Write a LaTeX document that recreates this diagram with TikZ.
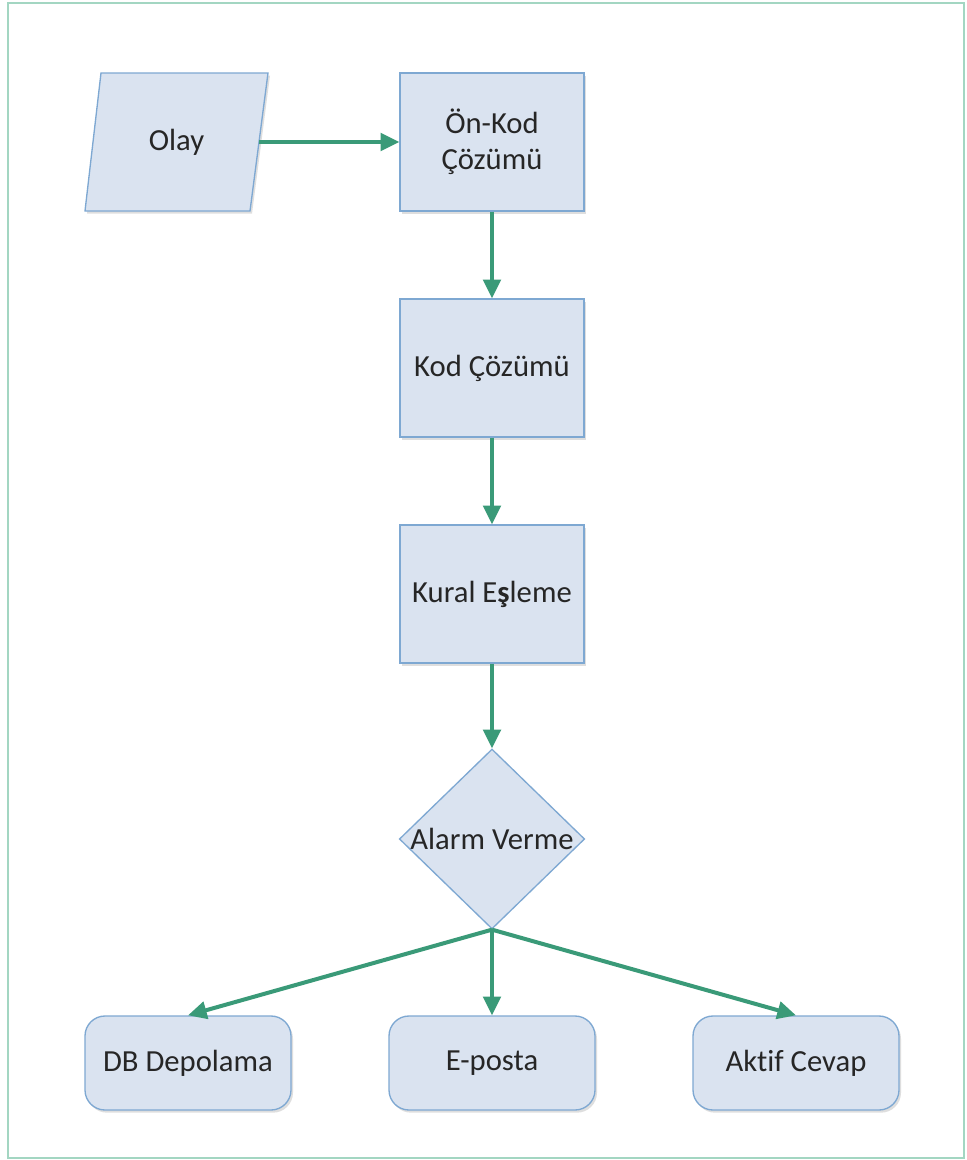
\documentclass[tikz,border=0pt]{standalone}
\usepackage{fontspec}
\setmainfont{Carlito}[Ligatures=NoCommon]
\usetikzlibrary{shapes.geometric,arrows.meta,shadows}
\definecolor{boxfill}{HTML}{DAE3F0}
\definecolor{boxline}{HTML}{7EA8D2}
\definecolor{flow}{HTML}{3A9A78}
\definecolor{frame}{HTML}{A3D6C2}
\begin{document}
\begin{tikzpicture}[x=0.75pt,y=-0.75pt,
  every node/.style={font=\fontsize{23}{27}\selectfont, text=black!85},
  boxshadow/.style={drop shadow={shadow xshift=1.5pt,shadow yshift=-2pt,fill=black!25,opacity=0.5}},
  stepbox/.style={draw=boxline, fill=boxfill, line width=1pt, boxshadow,
    minimum width=138pt, minimum height=103.5pt, align=center, inner sep=2pt},
  inputshape/.style={draw=boxline, fill=boxfill, line width=1pt, boxshadow},
  decision/.style={draw=boxline, fill=boxfill, line width=1pt, diamond, aspect=1.03,
    minimum width=138pt, minimum height=132pt, inner sep=0pt},
  outbox/.style={draw=boxline, fill=boxfill, line width=1pt, boxshadow, rounded corners=15pt,
    minimum width=154.5pt, minimum height=70.5pt},
  flowarrow/.style={draw=flow, line width=3pt, -{Triangle[length=14pt,width=13pt]}}
]
\useasboundingbox (0,0) rectangle (967,1160);
% outer frame
\draw[frame, line width=1.5pt, fill=white] (8,3) rectangle (964,1158);

% input parallelogram
\path[inputshape] (101,73) -- (268,73) -- (250,211) -- (85,211) -- cycle;
\node (olay) at (176.5,142) {Olay};
\coordinate (olayout) at (259,142);

% main chain
\node[stepbox] (onkod) at (492,142) {Ön-Kod\\Çözümü};
\node[stepbox] (kod) at (492,368) {Kod Çözümü};
\node[stepbox] (kural) at (492,594) {Kural E{\bfseries ş}leme};
\node[decision] (alarm) at (492,839) {Alarm Verme};

% outputs
\node[outbox] (db) at (188,1063) {DB Depolama};
\node[outbox] (eposta) at (492,1063) {E-posta};
\node[outbox] (aktif) at (796,1063) {Aktif Cevap};

% connectors
\draw[flowarrow] (olayout) -- (onkod.west);
\draw[flowarrow] (onkod.south) -- (kod.north);
\draw[flowarrow] (kod.south) -- (kural.north);
\draw[flowarrow] (kural.south) -- (alarm.north);
\draw[flowarrow] (alarm.south) -- (db.north);
\draw[flowarrow] (alarm.south) -- (eposta.north);
\draw[flowarrow] (alarm.south) -- (aktif.north);
\end{tikzpicture}
\end{document}
